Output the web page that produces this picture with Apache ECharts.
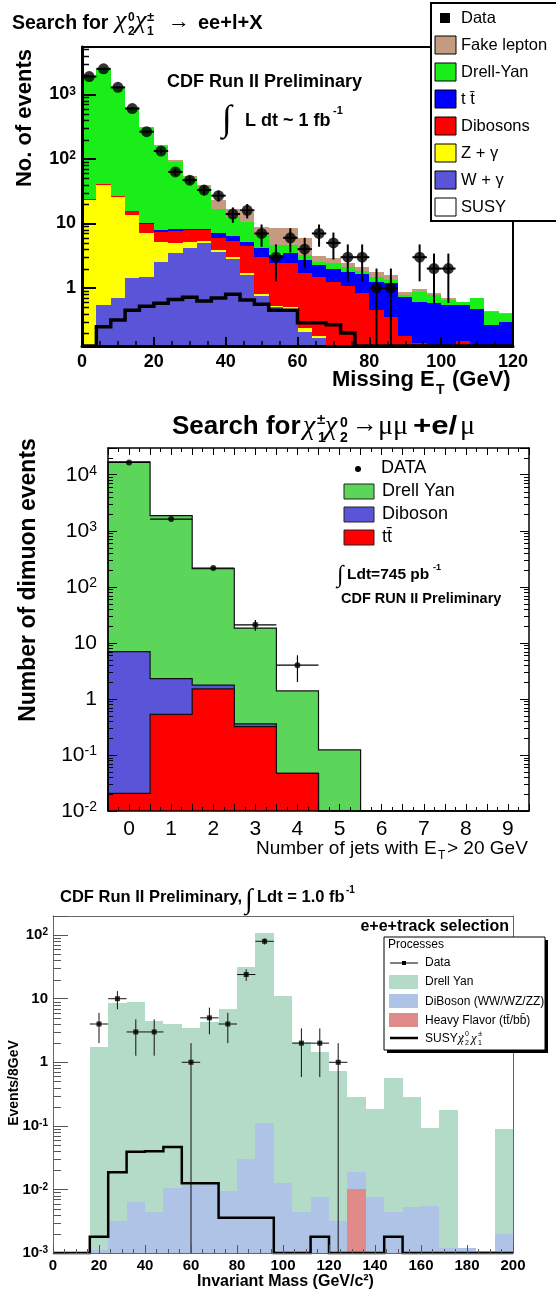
<!DOCTYPE html>
<html>
<head>
<meta charset="utf-8">
<title>CDF trilepton search plots</title>
<script src="https://cdn.jsdelivr.net/npm/echarts@6.0.0/dist/echarts.min.js"></script>
<style>
  html, body { margin: 0; padding: 0; background: #fff; }
  #chart { width: 556px; height: 1289px; }
</style>
</head>
<body>
<div id="chart"></div>
<script>
// ---------- top panel: missing ET, ee+l+X (4 GeV bins, 0-120) ----------
const etData = [1900, 2500, 1290, 605, 265, 133, 63, 47, 33, 27, 14, 16, 7, 3, 6, 4, 7, 5, 3, 3, 1, 1, 0, 3, 2, 2, 0, 0, 0, 0];
// stack heights (running total up to each component)
const etStackWGamma = [0, 0.55, 0.7, 1.41, 1.5, 2.55, 3.45, 4.1, 5.0, 3.6, 2.8, 1.6, 0.75, 0.51, 0.48, 0.21, 0.17, 0, 0, 0, 0, 0, 0, 0, 0, 0, 0, 0, 0, 0];
const etStackZGamma = [23, 40, 25.6, 13.3, 7.0, 5.2, 4.9, 5.2, 5.4, 3.85, 3.05, 1.7, 0.8, 0.53, 0.5, 0.24, 0.18, 0, 0, 0, 0, 0, 0, 0, 0, 0, 0, 0, 0, 0];
const etStackDiboson = [24, 41, 26.5, 15.5, 9.7, 7.3, 7.6, 7.8, 7.8, 6.0, 5.3, 4.4, 3.05, 2.4, 2.45, 1.73, 1.46, 1.25, 1.07, 0.83, 0.46, 0.36, 0.18, 0.14, 0, 0, 0.15, 0, 0, 0];
const etStackTtbar = [24, 41, 26.7, 15.7, 10, 7.8, 8.1, 8.3, 8.1, 7.0, 6.3, 5.2, 4.1, 3.25, 3.45, 2.7, 2.27, 2.0, 1.8, 1.63, 1.25, 1.18, 0.73, 0.61, 0.58, 0.54, 0.54, 0.48, 0.27, 0.3];
const etStackDY = [1900, 2450, 1300, 620, 300, 160, 90, 51, 37, 16.5, 12.5, 10.5, 6.6, 4.6, 4.6, 3.25, 2.55, 2.4, 2.1, 1.85, 1.5, 1.33, 0.78, 0.88, 0.78, 0.65, 0.6, 0.69, 0.43, 0.4];
const etStackFake = [1920, 2480, 1320, 630, 310, 165, 95, 54, 40, 23, 17, 15, 8.9, 8.5, 8.5, 6, 3.1, 2.9, 2.4, 2.1, 1.8, 1.6, 0.87, 0.95, 0.83, 0.7, 0.58, 0.7, 0.44, 0.41];
const etSusy = [0, 0.25, 0.32, 0.45, 0.52, 0.58, 0.66, 0.72, 0.63, 0.7, 0.8, 0.65, 0.56, 0.45, 0.45, 0.29, 0.29, 0.27, 0.2, 0, 0, 0, 0, 0, 0, 0, 0, 0, 0, 0];

// ---------- middle panel: number of jets ----------
const njLabels = ['0', '1', '2', '3', '4', '5', '6', '7', '8', '9'];
const njData = [16600, 1620, 216, 21, 4, 0, 0, 0, 0, 0];
const njStackTtbar = [0.0207, 0.53, 1.51, 0.32, 0.047, 0, 0, 0, 0, 0];
const njStackDiboson = [7.0, 2.3, 1.76, 0.36, 0.047, 0, 0, 0, 0, 0];
const njStackDY = [16900, 1870, 210, 18.3, 1.39, 0.123, 0, 0, 0, 0];

// ---------- bottom panel: invariant mass (8 GeV bins, 0-200) ----------
const mData = [0, 0, 4, 10, 3, 3, 0, 1, 5, 4, 24, 80, 0, 2, 2, 1, 0, 0, 0, 0, 0, 0, 0, 0, 0];
const mStackHF = [0, 0, 0, 0, 0, 0, 0, 0, 0, 0, 0, 0, 0, 0, 0, 0, 0.0103, 0, 0, 0, 0, 0, 0, 0, 0];
const mStackDiboson = [0, 0, 0.0011, 0.0032, 0.0063, 0.0044, 0.0107, 0.0118, 0.0125, 0.0093, 0.0305, 0.11, 0.0125, 0.0044, 0.0076, 0.0032, 0.0187, 0.0076, 0.0044, 0.0052, 0.0055, 0.0012, 0.0012, 0.00106, 0.002];
const mStackDY = [0, 0, 1.76, 8.6, 9.0, 4.5, 4.0, 3.4, 4.3, 7.0, 31, 108, 11.1, 2.06, 1.44, 0.74, 0.28, 0.187, 0.565, 0.28, 0.094, 0.18, 0, 0, 0.09];
const mSusy = [0, 0, 0.0018, 0.0187, 0.0393, 0.04, 0.0465, 0.0125, 0.0125, 0.0036, 0.0036, 0.0036, 0, 0, 0.0018, 0, 0, 0, 0.0018, 0, 0, 0, 0, 0, 0];

const FONT = '"Liberation Sans", Arial, Helvetica, sans-serif';
const SERIF = '"Liberation Serif", "DejaVu Serif", serif';

const ET_MIN = 0.126, ET_MAX = 5450;
const NJ_MIN = 0.01, NJ_MAX = 30000;
const M_MIN = 0.001, M_MAX = 200;

const etEdges = etData.map((_, i) => i * 4).concat([120]);
const njEdges = njData.map((_, i) => i - 0.5).concat([9.5]);
const mEdges = mData.map((_, i) => i * 8).concat([200]);

// filled histogram, drawn from the axis floor up to the stack height
function fill(name, idx, edges, tops, floor, color) {
  const data = [];
  tops.forEach((t, i) => { if (t > floor) data.push([edges[i], edges[i + 1], floor, t]); });
  return {
    name: name, type: 'custom', xAxisIndex: idx, yAxisIndex: idx, silent: true,
    encode: { x: [0, 1], y: [2, 3] }, data: data,
    renderItem: function (params, api) {
      const a = api.coord([api.value(0), api.value(3)]);
      const b = api.coord([api.value(1), api.value(2)]);
      const x0 = Math.round(a[0]), x1 = Math.round(b[0]);
      const y0 = Math.round(a[1]), y1 = Math.round(b[1]);
      return { type: 'rect', shape: { x: x0, y: y0, width: x1 - x0, height: y1 - y0 }, style: { fill: color } };
    }
  };
}

// step outline of a histogram (zero bins run along the floor)
function step(name, idx, edges, tops, floor, color, lw) {
  return {
    name: name, type: 'custom', xAxisIndex: idx, yAxisIndex: idx, silent: true,
    encode: { x: 0, y: 1 }, data: [[edges[0], floor]],
    renderItem: function (params, api) {
      const clamp = v => Math.max(v, floor);
      const pts = [api.coord([edges[0], floor])];
      tops.forEach((t, i) => {
        pts.push(api.coord([edges[i], clamp(t)]));
        pts.push(api.coord([edges[i + 1], clamp(t)]));
      });
      pts.push(api.coord([edges[tops.length], floor]));
      return { type: 'polyline', shape: { points: pts }, style: { stroke: color, lineWidth: lw, fill: null } };
    }
  };
}

function points(edges, values) {
  const out = [];
  values.forEach((v, i) => { if (v > 0) out.push([(edges[i] + edges[i + 1]) / 2, v, (edges[i + 1] - edges[i]) / 2]); });
  return out;
}

function errorBars(idx, pts, floor, color, lw) {
  return {
    type: 'custom', xAxisIndex: idx, yAxisIndex: idx, silent: true, z: 4,
    encode: { x: 0, y: 1 }, data: pts,
    renderItem: function (params, api) {
      const x = api.value(0), v = api.value(1), hw = api.value(2), e = Math.sqrt(v);
      const t = api.coord([x, v + e]);
      const b = api.coord([x, Math.max(v - e, floor)]);
      const l = api.coord([x - hw, v]);
      const r = api.coord([x + hw, v]);
      const st = { stroke: color, lineWidth: lw };
      return {
        type: 'group', children: [
          { type: 'line', shape: { x1: t[0], y1: t[1], x2: b[0], y2: b[1] }, style: st },
          { type: 'line', shape: { x1: l[0], y1: l[1], x2: r[0], y2: r[1] }, style: st }
        ]
      };
    }
  };
}

function markers(name, idx, pts, symbol, size) {
  return {
    name: name, type: 'scatter', xAxisIndex: idx, yAxisIndex: idx, z: 5, silent: true,
    symbol: symbol, symbolSize: size, itemStyle: { color: '#000' },
    data: pts.map(p => [p[0], p[1]])
  };
}

// log-axis minor ticks (2..9 per decade)
function logMinor(idx, xAt, lo, hi, len, fromRight, color, lw) {
  const vals = [];
  for (let e = Math.floor(Math.log10(lo)); e < Math.ceil(Math.log10(hi)); e++) {
    for (let m = 2; m <= 9; m++) {
      const v = m * Math.pow(10, e);
      if (v > lo && v < hi) vals.push([xAt, v]);
    }
  }
  return {
    type: 'custom', xAxisIndex: idx, yAxisIndex: idx, z: 10, silent: true,
    encode: { x: 0, y: 1 }, data: vals,
    renderItem: function (params, api) {
      const cs = params.coordSys;
      const y = Math.round(api.coord([api.value(0), api.value(1)])[1]) + 0.5;
      const x = fromRight ? cs.x + cs.width : cs.x;
      return { type: 'line', shape: { x1: x, y1: y, x2: fromRight ? x - len : x + len, y2: y }, style: { stroke: color, lineWidth: lw } };
    }
  };
}

function decadeFmt(v) {
  const lg = Math.log10(v), e = Math.round(lg);
  if (Math.abs(lg - e) > 1e-6) return '';
  if (e === 0) return '{b|1}';
  if (e === 1) return '{b|10}';
  return '{b|10}{s|' + e + '}';
}

function txt(x, base, s, size, o) {
  o = o || {};
  return {
    type: 'text', x: x, y: base, z: 100, rotation: o.rot || 0, scaleX: o.sx || 1,
    style: {
      text: s, x: 0, y: -0.35 * size,
      font: (o.italic ? 'italic ' : '') + (o.bold ? 'bold ' : '') + size + 'px ' + (o.family || FONT),
      fill: '#000', align: o.align || 'left', verticalAlign: 'middle'
    }
  };
}
function box(x, y, w, h, color, stroke, lw) {
  return { type: 'rect', z: 100, shape: { x: x, y: y, width: w, height: h }, style: { fill: color, stroke: stroke || null, lineWidth: lw || 1 } };
}
function seg(x1, y1, x2, y2, lw) {
  return { type: 'line', z: 100, shape: { x1: x1, y1: y1, x2: x2, y2: y2 }, style: { stroke: '#000', lineWidth: lw } };
}

const black = '#000';
const noTicks = { show: false };
const noLabels = { show: false };
const noSplit = { show: false };

const chart = echarts.init(document.getElementById('chart'));

const option = {
  animation: false,
  backgroundColor: '#fff',
  grid: [
    { left: 82, top: 47, width: 431, height: 299, outerBoundsMode: 'none' },
    { left: 108, top: 448, width: 421, height: 363, outerBoundsMode: 'none' },
    { left: 53, top: 916, width: 460, height: 337, outerBoundsMode: 'none' }
  ],
  xAxis: [
    {
      gridIndex: 0, type: 'value', min: 0, max: 120, interval: 20, z: 10,
      axisLine: { onZero: false, lineStyle: { color: black, width: 3 } },
      axisTick: { inside: true, length: 9, lineStyle: { color: black, width: 2 } },
      minorTick: { show: true, splitNumber: 4, length: 5, lineStyle: { color: black, width: 1.5 } },
      splitLine: noSplit,
      axisLabel: { color: black, fontFamily: FONT, fontSize: 18, fontWeight: 'bold', margin: 7 }
    },
    {
      gridIndex: 1, type: 'value', min: -0.5, max: 9.5, interval: 0.5, z: 10,
      axisLine: { onZero: false, lineStyle: { color: black, width: 1.5 } },
      axisTick: { inside: true, length: 7, lineStyle: { color: black, width: 1 } },
      minorTick: { show: true, splitNumber: 2, length: 4, lineStyle: { color: black, width: 1 } },
      splitLine: noSplit,
      axisLabel: {
        color: black, fontFamily: FONT, fontSize: 21, margin: 8,
        formatter: v => (Math.abs(v - Math.round(v)) < 1e-9 ? (njLabels[Math.round(v)] || '') : '')
      }
    },
    {
      gridIndex: 2, type: 'value', min: 0, max: 200, interval: 20, z: 10,
      axisLine: { onZero: false, lineStyle: { color: '#666', width: 1 } },
      axisTick: { inside: true, length: 8, lineStyle: { color: '#555', width: 1 } },
      minorTick: { show: true, splitNumber: 4, length: 4, lineStyle: { color: '#555', width: 1 } },
      splitLine: noSplit,
      axisLabel: { color: black, fontFamily: FONT, fontSize: 15, fontWeight: 'bold', margin: 5 }
    },
    {
      gridIndex: 0, type: 'value', position: 'top', min: 0, max: 120, z: 10,
      axisLine: { onZero: false, lineStyle: { color: black, width: 2 } },
      axisTick: noTicks, axisLabel: noLabels, splitLine: noSplit
    },
    {
      gridIndex: 1, type: 'value', position: 'top', min: -0.5, max: 9.5, interval: 0.5, z: 10,
      axisLine: { onZero: false, lineStyle: { color: black, width: 1.5 } },
      axisTick: { inside: true, length: 7, lineStyle: { color: black, width: 1 } },
      minorTick: { show: true, splitNumber: 2, length: 4, lineStyle: { color: black, width: 1 } },
      axisLabel: noLabels, splitLine: noSplit
    },
    {
      gridIndex: 2, type: 'value', position: 'top', min: 0, max: 200, z: 10,
      axisLine: { onZero: false, lineStyle: { color: '#666', width: 1 } },
      axisTick: noTicks, axisLabel: noLabels, splitLine: noSplit
    }
  ],
  yAxis: [
    {
      gridIndex: 0, type: 'log', logBase: 10, min: ET_MIN, max: ET_MAX, z: 10,
      axisLine: { onZero: false, lineStyle: { color: black, width: 3 } },
      axisTick: { inside: true, length: 14, lineStyle: { color: black, width: 2 } },
      splitLine: noSplit,
      axisLabel: {
        formatter: decadeFmt, margin: 6,
        rich: {
          b: { fontFamily: FONT, fontSize: 18, fontWeight: 'bold', color: black },
          s: { fontFamily: FONT, fontSize: 12, fontWeight: 'bold', color: black, verticalAlign: 'top' }
        }
      }
    },
    {
      gridIndex: 1, type: 'log', logBase: 10, min: NJ_MIN, max: NJ_MAX, z: 10,
      axisLine: { onZero: false, lineStyle: { color: black, width: 1.5 } },
      axisTick: { inside: true, length: 9, lineStyle: { color: black, width: 1 } },
      splitLine: noSplit,
      axisLabel: {
        formatter: decadeFmt, margin: 11,
        rich: {
          b: { fontFamily: FONT, fontSize: 21, color: black },
          s: { fontFamily: FONT, fontSize: 14, color: black, verticalAlign: 'top' }
        }
      }
    },
    {
      gridIndex: 2, type: 'log', logBase: 10, min: M_MIN, max: M_MAX, z: 10,
      axisLine: { onZero: false, lineStyle: { color: '#666', width: 1 } },
      axisTick: { inside: true, length: 15, lineStyle: { color: '#555', width: 1 } },
      splitLine: noSplit,
      axisLabel: {
        formatter: decadeFmt, margin: 5,
        rich: {
          b: { fontFamily: FONT, fontSize: 15, fontWeight: 'bold', color: black },
          s: { fontFamily: FONT, fontSize: 10, fontWeight: 'bold', color: black, verticalAlign: 'top' }
        }
      }
    },
    {
      gridIndex: 0, type: 'log', position: 'right', min: ET_MIN, max: ET_MAX, z: 10,
      axisLine: { onZero: false, lineStyle: { color: black, width: 2 } },
      axisTick: noTicks, axisLabel: noLabels, splitLine: noSplit
    },
    {
      gridIndex: 1, type: 'log', position: 'right', min: NJ_MIN, max: NJ_MAX, z: 10,
      axisLine: { onZero: false, lineStyle: { color: black, width: 1.5 } },
      axisTick: { inside: true, length: 9, lineStyle: { color: black, width: 1 } },
      axisLabel: noLabels, splitLine: noSplit
    },
    {
      gridIndex: 2, type: 'log', position: 'right', min: M_MIN, max: M_MAX, z: 10,
      axisLine: { onZero: false, lineStyle: { color: '#666', width: 1 } },
      axisTick: noTicks, axisLabel: noLabels, splitLine: noSplit
    }
  ],
  series: [
    // top panel
    fill('Fake lepton', 0, etEdges, etStackFake, ET_MIN, '#C49B80'),
    fill('Drell-Yan', 0, etEdges, etStackDY, ET_MIN, '#19EE19'),
    fill('t tbar', 0, etEdges, etStackTtbar, ET_MIN, '#0000FF'),
    fill('Dibosons', 0, etEdges, etStackDiboson, ET_MIN, '#FF0000'),
    fill('Z + gamma', 0, etEdges, etStackZGamma, ET_MIN, '#FFFF00'),
    fill('W + gamma', 0, etEdges, etStackWGamma, ET_MIN, '#5A55D8'),
    step('SUSY', 0, etEdges, etSusy, ET_MIN, black, 3.5),
    errorBars(0, points(etEdges, etData), ET_MIN, black, 2),
    markers('Data', 0, points(etEdges, etData), 'circle', 11),
    logMinor(0, 0, ET_MIN, ET_MAX, 7, false, black, 1.5),

    // middle panel
    fill('Drell Yan', 1, njEdges, njStackDY, NJ_MIN, '#5BD65B'),
    step('Drell Yan line', 1, njEdges, njStackDY, NJ_MIN, '#111', 1.2),
    fill('Diboson', 1, njEdges, njStackDiboson, NJ_MIN, '#5A55D8'),
    step('Diboson line', 1, njEdges, njStackDiboson, NJ_MIN, '#111', 1.2),
    fill('ttbar', 1, njEdges, njStackTtbar, NJ_MIN, '#FF0000'),
    step('ttbar line', 1, njEdges, njStackTtbar, NJ_MIN, '#111', 1.2),
    errorBars(1, points(njEdges, njData), NJ_MIN, black, 1.2),
    markers('DATA', 1, points(njEdges, njData), 'circle', 6),
    logMinor(1, -0.5, NJ_MIN, NJ_MAX, 5, false, black, 1),
    logMinor(1, -0.5, NJ_MIN, NJ_MAX, 5, true, black, 1),

    // bottom panel
    fill('Drell Yan', 2, mEdges, mStackDY, M_MIN, '#B3DBC7'),
    fill('DiBoson (WW/WZ/ZZ)', 2, mEdges, mStackDiboson, M_MIN, '#AFC3E6'),
    fill('Heavy Flavor', 2, mEdges, mStackHF, M_MIN, '#E08A8A'),
    step('SUSY', 2, mEdges, mSusy, M_MIN, black, 2.5),
    errorBars(2, points(mEdges, mData), M_MIN, '#111', 1),
    markers('Data', 2, points(mEdges, mData), 'rect', 5),
    logMinor(2, 0, M_MIN, M_MAX, 8, false, '#555', 1)
  ],
  graphic: {
    elements: [
      // ---- top panel texts
      txt(12, 30, 'Search for', 19.5, { bold: true }),
      txt(115, 30, 'χ', 26, { family: SERIF, italic: true }),
      txt(128, 22, '0', 12, { bold: true }),
      txt(128, 36, '2', 12, { bold: true }),
      txt(135, 30, 'χ', 26, { family: SERIF, italic: true }),
      txt(147, 22, '±', 13, { bold: true }),
      txt(147, 36, '1', 12, { bold: true }),
      txt(168, 30, '→', 22, { family: SERIF }),
      txt(198, 30, 'ee+l+X', 20, { bold: true }),
      txt(167, 88, 'CDF Run II Preliminary', 18, { bold: true }),
      txt(222, 133, '∫', 36, { family: SERIF }),
      txt(245, 127, 'L dt ~ 1 fb', 18, { bold: true }),
      txt(333, 115, '-1', 11, { bold: true }),
      txt(33, 118, 'No. of events', 22, { bold: true, rot: Math.PI / 2, align: 'center' }),
      txt(332, 388, 'Missing E', 22, { bold: true }),
      txt(436, 395, 'T', 14, { bold: true }),
      txt(452, 388, '(GeV)', 22, { bold: true }),
      // top legend
      box(431, 3, 135, 218, '#fff', black, 2),
      box(440, 13, 10, 10, black),
      txt(461, 24, 'Data', 16.5),
      box(435, 36, 21, 18, '#C49B80', black, 1), txt(461, 51, 'Fake lepton', 16.5),
      box(435, 63, 21, 18, '#19EE19', black, 1), txt(461, 78, 'Drell-Yan', 16.5),
      box(435, 90, 21, 18, '#0000FF', black, 1), txt(461, 105, 't t\u0304', 16.5),
      box(435, 117, 21, 18, '#FF0000', black, 1), txt(461, 132, 'Dibosons', 16.5),
      box(435, 144, 21, 18, '#FFFF00', black, 1), txt(461, 159, 'Z + γ', 16.5),
      box(435, 171, 21, 18, '#5A55D8', black, 1), txt(461, 186, 'W + γ', 16.5),
      box(435, 198, 21, 18, '#fff', black, 1), txt(461, 213, 'SUSY', 16.5),

      // ---- middle panel texts
      txt(172, 436, 'Search for', 26, { bold: true }),
      txt(303, 436, 'χ', 28, { family: SERIF, italic: true }),
      txt(317, 425, '±', 15, { bold: true }),
      txt(318, 443, '1', 14, { bold: true }),
      txt(325, 436, 'χ', 28, { family: SERIF, italic: true }),
      txt(340, 428, '0', 14, { bold: true }),
      txt(340, 443, '2', 14, { bold: true }),
      txt(352, 434, '→', 26, { family: SERIF }),
      txt(378, 436, 'μμ', 28, { family: SERIF }),
      txt(413, 436, '+e/', 26, { bold: true, sx: 1.2 }),
      txt(460, 436, 'μ', 28, { family: SERIF }),
      { type: 'circle', z: 100, shape: { cx: 358, cy: 469, r: 3 }, style: { fill: black } },
      txt(381, 474, 'DATA', 18),
      box(344, 484, 30, 15, '#5BD65B', '#222', 1), txt(382, 497, 'Drell Yan', 18),
      box(344, 507, 30, 15, '#5A55D8', '#222', 1), txt(382, 520, 'Diboson', 18),
      box(344, 530, 30, 15, '#FF0000', '#222', 1), txt(382, 543, 'tt\u0304', 18),
      txt(337, 584, '∫', 24, { family: SERIF }),
      txt(347, 580, 'Ldt=745 pb', 15.5, { bold: true }),
      txt(433, 571, '-1', 9, { bold: true }),
      txt(341, 604, 'CDF RUN II Preliminary', 14.5, { bold: true }),
      txt(37, 580, 'Number of dimuon events', 23, { bold: true, rot: Math.PI / 2, align: 'center' }),
      txt(256, 855, 'Number of jets with E', 19),
      txt(438, 860, 'T', 12),
      txt(447, 855, '> 20 GeV', 19),

      // ---- bottom panel texts
      txt(60, 903, 'CDF Run II Preliminary,', 16.5, { bold: true }),
      txt(245, 910, '∫', 28, { family: SERIF }),
      txt(257, 903, 'Ldt = 1.0 fb', 16.5, { bold: true }),
      txt(346, 894, '-1', 10, { bold: true }),
      txt(509, 932, 'e+e+track selection', 16, { bold: true, align: 'right' }),
      box(387, 940, 161, 113, black),
      box(384, 937, 161, 113, '#fff', black, 1),
      txt(388, 949, 'Processes', 12),
      seg(390, 963, 418, 963, 1),
      box(402, 961, 4, 4, black),
      txt(425, 967, 'Data', 12),
      box(389, 975, 29, 14, '#B3DBC7'), txt(425, 986, 'Drell Yan', 12),
      box(389, 994, 29, 14, '#AFC3E6'), txt(425, 1006, 'DiBoson (WW/WZ/ZZ)', 12),
      box(389, 1013, 29, 14, '#E08A8A'), txt(425, 1025, 'Heavy Flavor (tt\u0304/bb\u0304)', 12),
      seg(390, 1038, 418, 1038, 2.5),
      txt(425, 1043, 'SUSY :', 12),
      txt(458, 1043, 'χ', 13, { family: SERIF, italic: true }),
      txt(465, 1037, '0', 7),
      txt(465, 1046, '2', 7),
      txt(471, 1043, 'χ', 13, { family: SERIF, italic: true }),
      txt(478, 1037, '±', 8),
      txt(478, 1046, '1', 7),
      txt(19, 1083, 'Events/8GeV', 14, { bold: true, rot: Math.PI / 2, align: 'center' }),
      txt(197, 1287, 'Invariant Mass (GeV/c²)', 16, { bold: true })
    ]
  }
};

chart.setOption(option);
</script>
</body>
</html>
